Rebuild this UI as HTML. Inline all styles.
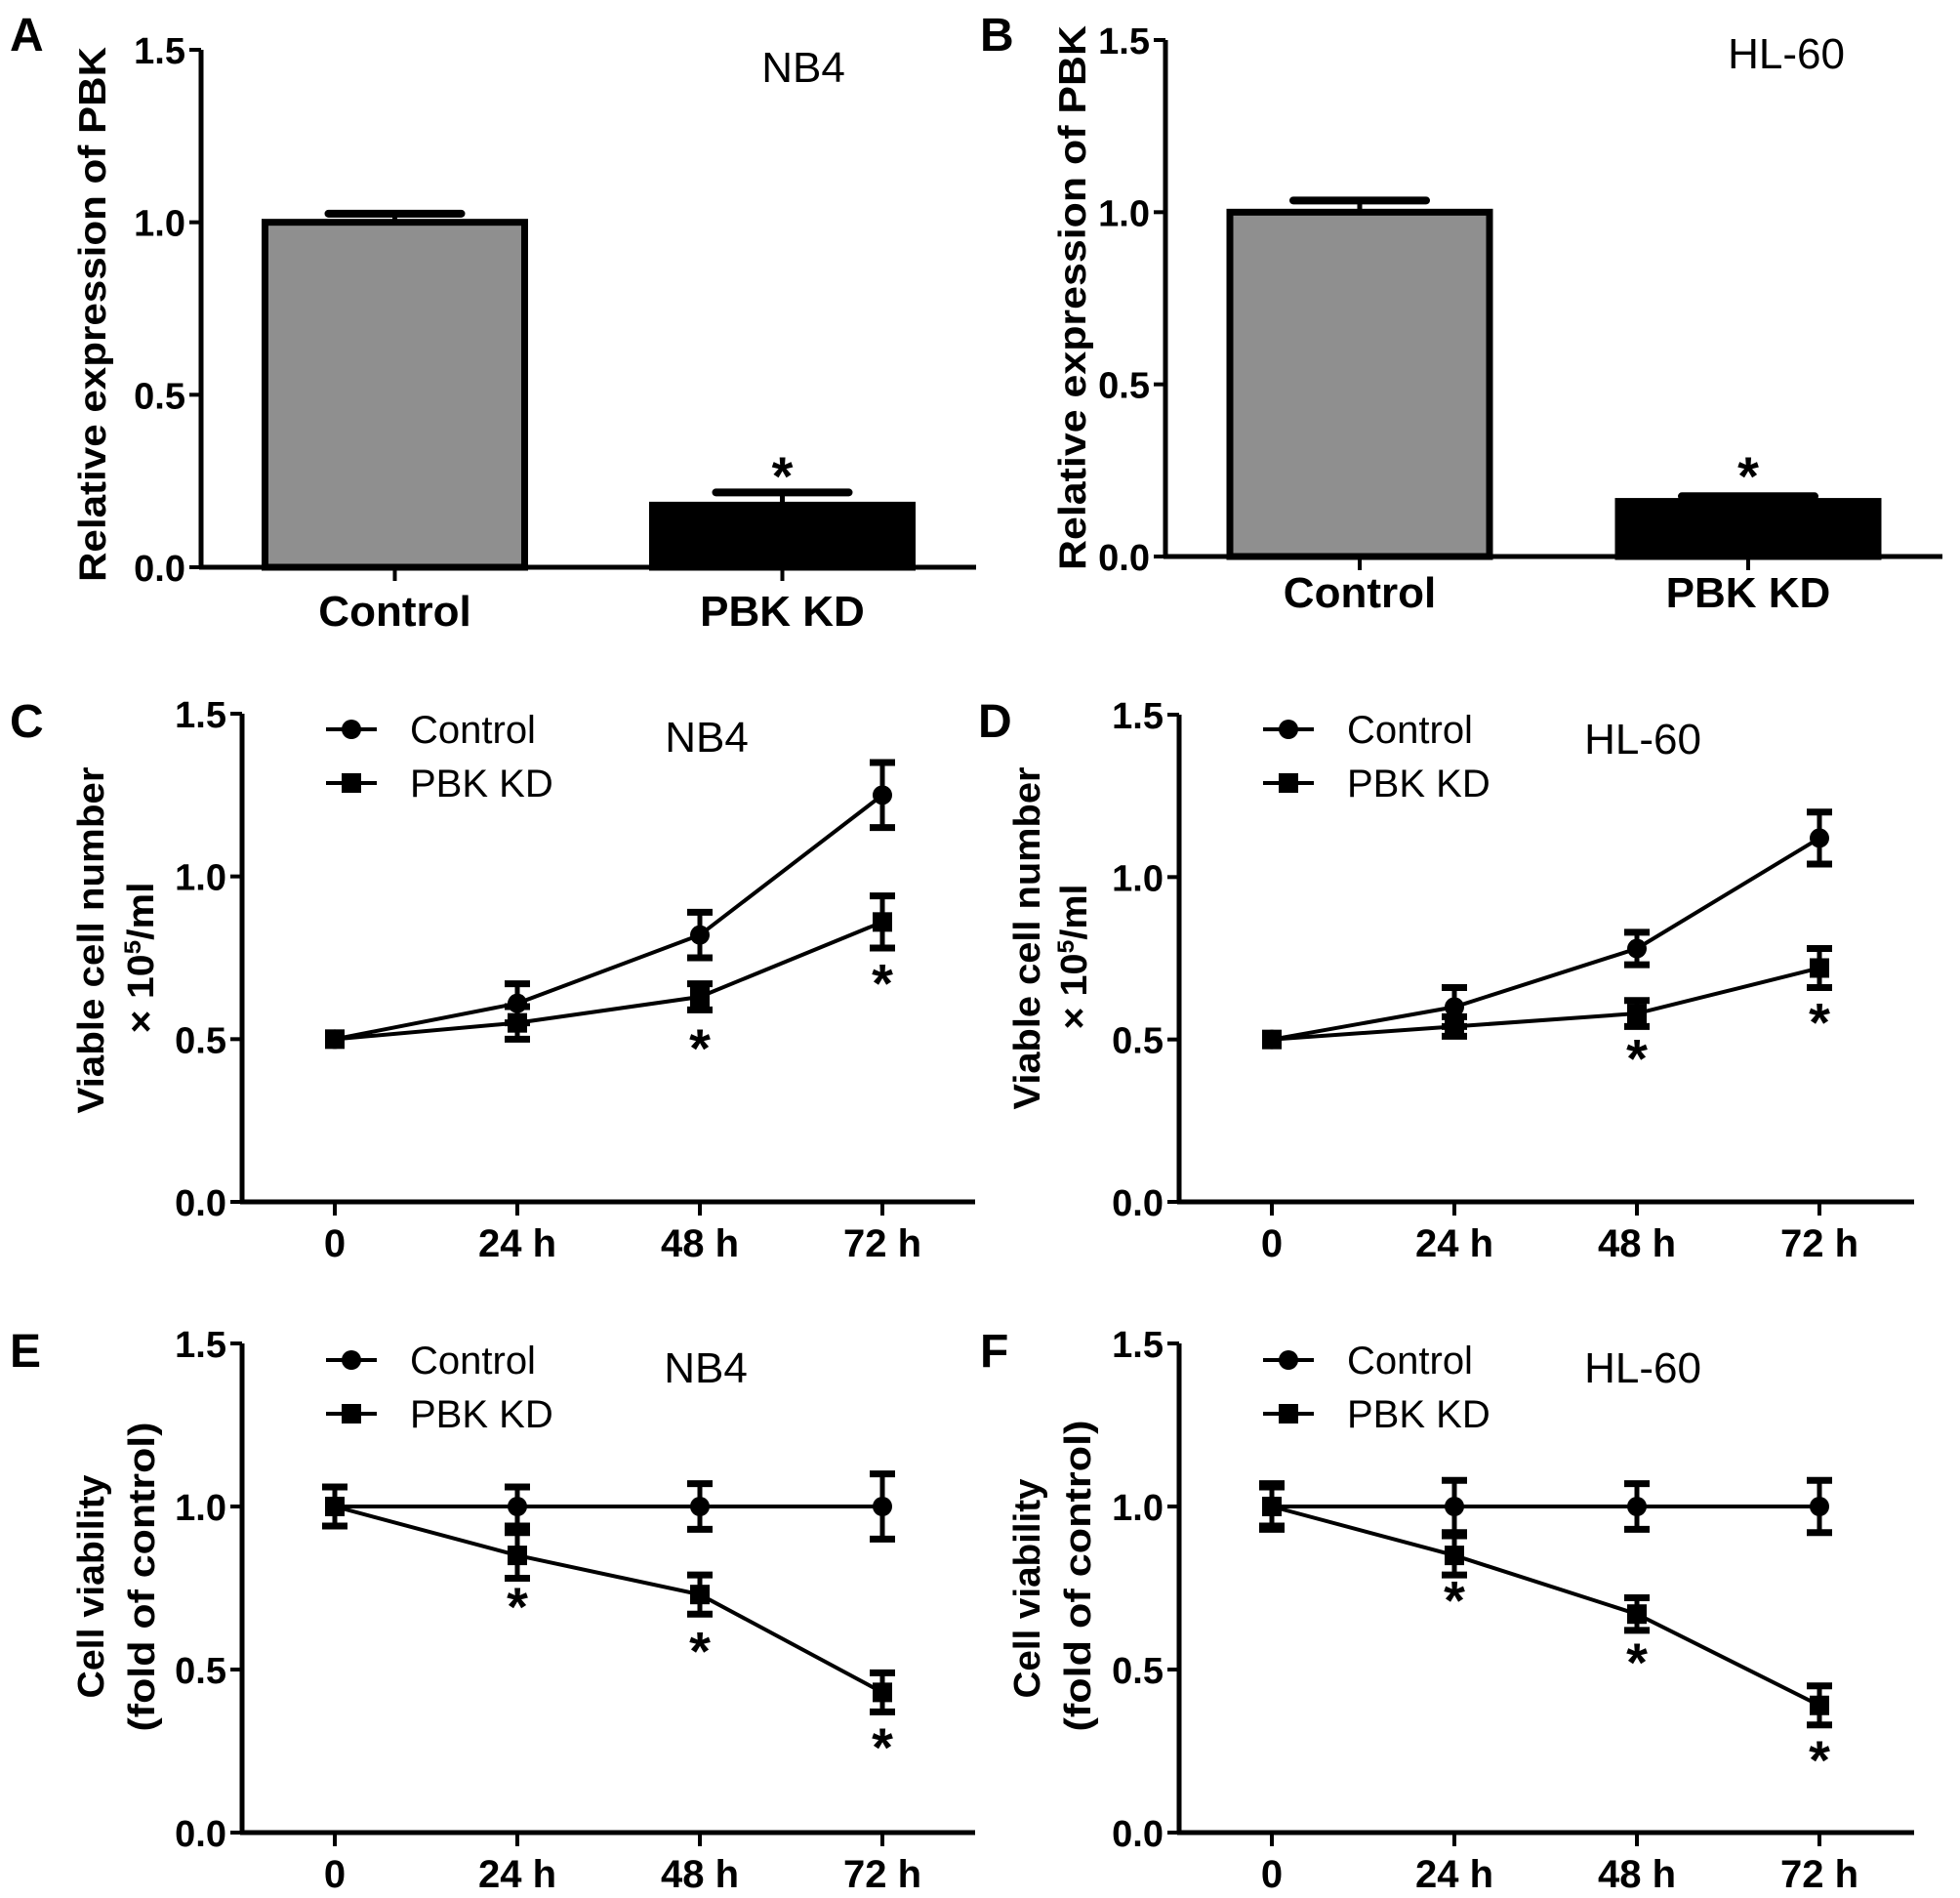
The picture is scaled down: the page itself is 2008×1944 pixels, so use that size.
<!DOCTYPE html>
<html><head><meta charset="utf-8"><style>
html,body{margin:0;padding:0;background:#fff;}
svg{display:block;}
text{font-family:"Liberation Sans",Arial,sans-serif;}
</style></head>
<body>
<svg id="fig" width="2008" height="1944" viewBox="0 0 2008 1944" xmlns="http://www.w3.org/2000/svg"></svg>
<script>
// ---- data ----
const barCats = ['Control', 'PBK KD'];
const aVals = [1.0, 0.18];
const aErr = [0.025, 0.037];
const aStars = [null, 0.30];
const bVals = [1.0, 0.16];
const bErr = [0.034, 0.015];
const bStars = [null, 0.27];
const yTicks = [0, 0.5, 1.0, 1.5];
const yTickLabels = ['0.0', '0.5', '1.0', '1.5'];
const timeLabels = ['0', '24 h', '48 h', '72 h'];
const cCtrl = [0.5, 0.61, 0.82, 1.25];
const cCtrlErr = [0, 0.06, 0.07, 0.10];
const cKD = [0.5, 0.55, 0.63, 0.86];
const cKDErr = [0, 0.05, 0.04, 0.08];
const cStars = [null, null, 0.51, 0.71];
const dCtrl = [0.5, 0.60, 0.78, 1.12];
const dCtrlErr = [0, 0.06, 0.05, 0.08];
const dKD = [0.5, 0.54, 0.58, 0.72];
const dKDErr = [0, 0.03, 0.04, 0.06];
const dStars = [null, null, 0.48, 0.59];
const eCtrl = [1, 1, 1, 1];
const eCtrlErr = [0.06, 0.06, 0.07, 0.10];
const eKD = [1, 0.85, 0.73, 0.43];
const eKDErr = [0.06, 0.07, 0.06, 0.06];
const eStars = [null, 0.73, 0.595, 0.30];
const fCtrl = [1, 1, 1, 1];
const fCtrlErr = [0.06, 0.08, 0.07, 0.08];
const fKD = [1, 0.85, 0.67, 0.39];
const fKDErr = [0.07, 0.06, 0.05, 0.06];
const fStars = [null, 0.75, 0.56, 0.26];

const NS = 'http://www.w3.org/2000/svg';
const svg = document.getElementById('fig');
function mk(tag, attrs, parent) {
  const e = document.createElementNS(NS, tag);
  for (const k in attrs) e.setAttribute(k, attrs[k]);
  (parent || svg).appendChild(e);
  return e;
}
function txt(s, x, y, size, weight, anchor, parent) {
  const t = mk('text', {x: x, y: y, 'font-size': size, 'font-weight': weight, 'text-anchor': anchor, fill: '#000'}, parent);
  t.textContent = s;
  return t;
}
function line(x1, y1, x2, y2, w, parent) {
  return mk('line', {x1: x1, y1: y1, x2: x2, y2: y2, stroke: '#000', 'stroke-width': w}, parent);
}

function axes(g, ax, y0, y15, xEnd, name) {
  const ys = v => y0 - (y0 - y15) * v / 1.5;
  const ya = line(ax, y15, ax, y0 + 2, 5, g);
  
  
  const xa = line(ax - 2, y0, xEnd, y0, 5, g);
  
  
  yTicks.forEach((v, i) => {
    line(ax - 12, ys(v), ax, ys(v), 4, g);
    const t = txt(yTickLabels[i], ax - 16, ys(v) + 14, 38, 'bold', 'end', g);
    
    
  });
  return ys;
}
function star(g, x, y) {
  const t = txt('*', x, y + 32, 56, 'bold', 'middle', g);
  
  
}
function rotTitle(g, lines, name) {
  lines.forEach(l => {
    const t = mk('text', {x: 0, y: 0, 'font-size': l.size, 'font-weight': 'bold', 'text-anchor': 'middle',
      transform: 'translate(' + l.x + ',' + l.y + ') rotate(-90)', textLength: l.len, lengthAdjust: 'spacingAndGlyphs'}, g);
    if (l.html) t.innerHTML = l.html; else t.textContent = l.s;
    
    
  });
}

function barPanel(cfg) {
  const g = mk('g', {});
  
  
  const ys = axes(g, cfg.ax, cfg.y0, cfg.y15, cfg.xEnd, cfg.name);
  const band = (cfg.xEnd - cfg.ax) / barCats.length;
  const bw = 266;
  barCats.forEach((c, i) => {
    const cx = cfg.ax + band * (i + 0.5);
    const top = ys(cfg.vals[i]);
    const et = ys(cfg.vals[i] + cfg.err[i]);
    line(cx, top, cx, et, 5, g);
    const cap = line(cx - 68, et, cx + 68, et, 8, g);
    cap.setAttribute('stroke-linecap', 'round');
    const r = mk('rect', {x: cx - bw / 2, y: top, width: bw, height: cfg.y0 - top,
      fill: i === 0 ? '#8f8f8f' : '#000', stroke: '#000', 'stroke-width': 7}, g);
    
    
    line(cx, cfg.y0, cx, cfg.y0 + 14, 4, g);
    const t = txt(c, cx, cfg.labY, 44, 'bold', 'middle', g);
    
    
    if (cfg.stars[i] != null) star(g, cx, ys(cfg.stars[i]));
  });
  const tt = txt(cfg.title, cfg.titleX, cfg.titleY, 44, 'normal', 'middle', g);
  
  
  const pl = txt(cfg.letter, cfg.letterX, cfg.letterY, 48, 'bold', 'start', g);
  
  
  rotTitle(g, cfg.ylab, 'y-axis-title');
}

function marker(g, type, x, y) {
  let m;
  if (type === 'circle') m = mk('circle', {cx: x, cy: y, r: 10, fill: '#000'}, g);
  else m = mk('rect', {x: x - 10, y: y - 10, width: 20, height: 20, fill: '#000'}, g);
  return m;
}

function linePanel(cfg) {
  const g = mk('g', {});
  
  
  const ys = axes(g, cfg.ax, cfg.y0, cfg.y15, cfg.xEnd, cfg.name);
  const xs = i => cfg.ax + 95 + i * 187;
  timeLabels.forEach((l, i) => {
    line(xs(i), cfg.y0, xs(i), cfg.y0 + 14, 4, g);
    const t = txt(l, xs(i), cfg.y0 + 56, 40, 'bold', 'middle', g);
    
    
  });
  const series = [
    {vals: cfg.ctrl, err: cfg.ctrlErr, m: 'circle', n: 'control'},
    {vals: cfg.kd, err: cfg.kdErr, m: 'square', n: 'pbk-kd'}
  ];
  series.forEach(s => {
    const pts = s.vals.map((v, i) => xs(i) + ',' + ys(v)).join(' ');
    const pl = mk('polyline', {points: pts, fill: 'none', stroke: '#000', 'stroke-width': 4}, g);
    
    
    s.vals.forEach((v, i) => {
      const e = s.err[i];
      if (e > 0) {
        line(xs(i), ys(v + e), xs(i), ys(v - e), 5, g);
        line(xs(i) - 13, ys(v + e), xs(i) + 13, ys(v + e), 7, g);
        line(xs(i) - 13, ys(v - e), xs(i) + 13, ys(v - e), 7, g);
      }
      const m = marker(g, s.m, xs(i), ys(v));
      
      
    });
  });
  cfg.stars.forEach((v, i) => { if (v != null) star(g, xs(i), ys(v)); });
  const lx = cfg.ax + 86;
  [['Control', 'circle', cfg.legY1], ['PBK KD', 'square', cfg.legY2]].forEach(le => {
    const lg = mk('g', {}, g);
    
    
    line(lx, le[2] - 14, lx + 52, le[2] - 14, 4, lg);
    marker(lg, le[1], lx + 26, le[2] - 14);
    txt(le[0], lx + 86, le[2], 40, 'normal', 'start', lg);
  });
  const tt = txt(cfg.title, cfg.titleX, cfg.titleY, 44, 'normal', 'middle', g);
  
  
  const pl = txt(cfg.letter, cfg.letterX, cfg.letterY, 48, 'bold', 'start', g);
  
  
  rotTitle(g, cfg.ylab, 'y-axis-title');
}

barPanel({name: 'panel-a', ax: 206, y0: 581, y15: 51, xEnd: 1000, vals: aVals, err: aErr, stars: aStars,
  labY: 641, title: 'NB4', titleX: 823, titleY: 84, letter: 'A', letterX: 10, letterY: 52,
  ylab: [{s: 'Relative expression of PBK', x: 108, y: 322, size: 39, len: 548}]});
barPanel({name: 'panel-b', ax: 1194, y0: 570, y15: 41, xEnd: 1990, vals: bVals, err: bErr, stars: bStars,
  labY: 622, title: 'HL-60', titleX: 1830, titleY: 70, letter: 'B', letterX: 1004, letterY: 52,
  ylab: [{s: 'Relative expression of PBK', x: 1112, y: 305, size: 39, len: 558}]});
linePanel({name: 'panel-c', ax: 248, y0: 1231, y15: 731, xEnd: 999,
  ctrl: cCtrl, ctrlErr: cCtrlErr, kd: cKD, kdErr: cKDErr, stars: cStars,
  legY1: 761, legY2: 816, title: 'NB4', titleX: 724, titleY: 770, letter: 'C', letterX: 10, letterY: 755,
  ylab: [{s: 'Viable cell number', x: 106, y: 963, size: 38, len: 355},
         {html: '× 10<tspan baseline-shift="super" font-size="24">5</tspan>/ml', x: 157, y: 981, size: 38, len: 155}]});
linePanel({name: 'panel-d', ax: 1208, y0: 1231, y15: 732, xEnd: 1961,
  ctrl: dCtrl, ctrlErr: dCtrlErr, kd: dKD, kdErr: dKDErr, stars: dStars,
  legY1: 761, legY2: 816, title: 'HL-60', titleX: 1683, titleY: 772, letter: 'D', letterX: 1002, letterY: 755,
  ylab: [{s: 'Viable cell number', x: 1065, y: 961, size: 38, len: 351},
         {html: '× 10<tspan baseline-shift="super" font-size="24">5</tspan>/ml', x: 1113, y: 980, size: 38, len: 149}]});
linePanel({name: 'panel-e', ax: 248, y0: 1877, y15: 1376, xEnd: 999,
  ctrl: eCtrl, ctrlErr: eCtrlErr, kd: eKD, kdErr: eKDErr, stars: eStars,
  legY1: 1407, legY2: 1462, title: 'NB4', titleX: 723, titleY: 1416, letter: 'E', letterX: 10, letterY: 1400,
  ylab: [{s: 'Cell viability', x: 106, y: 1625, size: 38, len: 229},
         {s: '(fold of control)', x: 158, y: 1615, size: 38, len: 317}]});
linePanel({name: 'panel-f', ax: 1208, y0: 1877, y15: 1376, xEnd: 1961,
  ctrl: fCtrl, ctrlErr: fCtrlErr, kd: fKD, kdErr: fKDErr, stars: fStars,
  legY1: 1407, legY2: 1462, title: 'HL-60', titleX: 1683, titleY: 1416, letter: 'F', letterX: 1004, letterY: 1400,
  ylab: [{s: 'Cell viability', x: 1065, y: 1627, size: 38, len: 225},
         {s: '(fold of control)', x: 1117, y: 1614, size: 38, len: 319}]});
</script>
</body></html>
